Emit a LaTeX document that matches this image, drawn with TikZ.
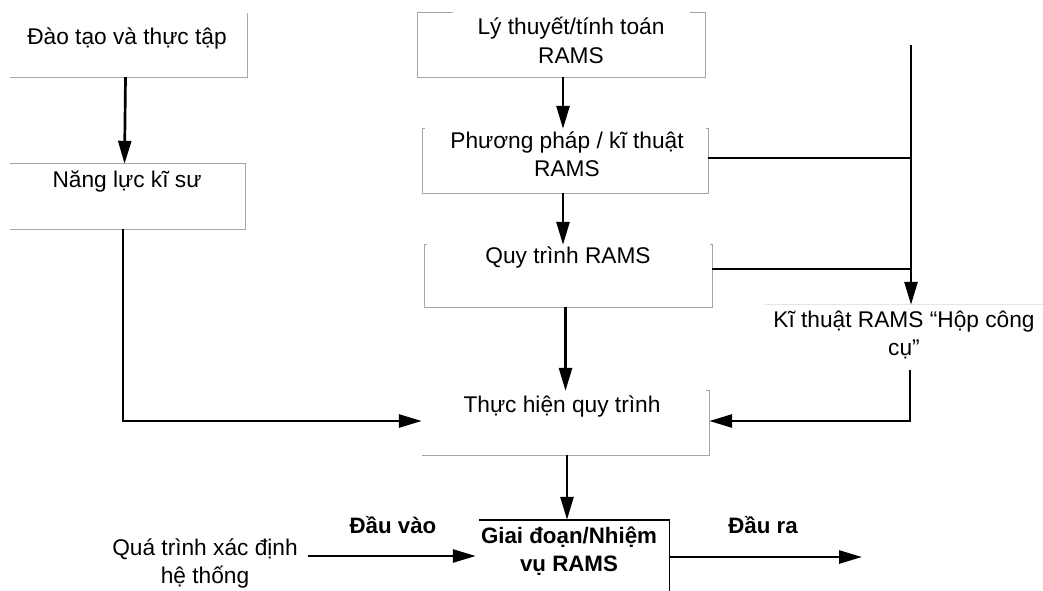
\documentclass[tikz,border=0pt]{standalone}
\usepackage{fontspec}
\setmainfont{Liberation Sans}
\usetikzlibrary{arrows.meta}
\newcommand\twolines[2]{\begin{tabular}[t]{@{}c@{}}#1\\#2\end{tabular}}

\begin{document}
\begin{tikzpicture}[x=1pt,y=-1pt,
  txt/.style={font=\fontsize{22.7}{28.5}\selectfont, inner sep=0pt, anchor=base},
  btxt/.style={txt, font=\fontsize{22.3}{28.5}\selectfont\bfseries},
  box/.style={draw=none, inner sep=0pt},
  edge/.style={draw=black!35, line width=1pt},
  faint/.style={draw=black!10, line width=1pt},
  frame/.style={draw=black, line width=1.4pt},
  plain/.style={line width=2.7pt},
  link/.style={plain, -{Triangle[length=23pt,width=13pt]}},
]
\useasboundingbox (0,0) rectangle (1043,591);

% frames of the steps
\node[box, minimum width=237pt, minimum height=64pt] (train)  at (128.5,45)  {};
\node[box, minimum width=235pt, minimum height=65pt] (comp)   at (127.5,196.5) {};
\node[box, minimum width=287pt, minimum height=64pt] (theory) at (561.5,45)  {};
\node[box, minimum width=285pt, minimum height=64pt] (method) at (565.5,161) {};
\node[box, minimum width=287pt, minimum height=62pt] (proc)   at (568.5,276) {};
\node[box, minimum width=287pt, minimum height=64pt] (exec)   at (565.5,423) {};
\node[box, minimum width=278pt, minimum height=65pt] (tool)   at (904,337.5) {};
\node[box, minimum width=190pt, minimum height=72pt] (task)   at (574,556)   {};

% texts
\node[txt] (trainT)  at (127,45)  {Đào tạo và thực tập};
\node[txt] (compT)   at (127,187) {Năng lực kĩ sư};
\node[txt] (theoryT) at (571,35)  {\twolines{Lý thuyết/tính toán}{RAMS}};
\node[txt] (methodT) at (567,148) {\twolines{Phương pháp / kĩ thuật}{RAMS}};
\node[txt] (procT)   at (568,263) {Quy trình RAMS};
\node[txt] (execT)   at (562,412) {Thực hiện quy trình};
\node[txt] (toolT)   at (904,327) {\twolines{Kĩ thuật RAMS “Hộp công}{cụ”}};
\node[txt] (sys)     at (205,555) {\twolines{Quá trình xác định}{hệ thống}};
\node[btxt] (taskT)  at (569,543) {\twolines{Giai đoạn/Nhiệm}{vụ RAMS}};
\node[btxt] (inLbl)  at (393,533) {Đầu vào};
\node[btxt] (outLbl) at (763,533) {Đầu ra};

% partial borders
\draw[edge] (train.north east) -- (train.south east) -- (train.south west);
\draw[edge] (comp.north west) -- (comp.north east) -- (comp.south east) -- (comp.south west);
\draw[edge] ([xshift=35pt]theory.north west) -- (theory.north west) -- (theory.south west)
  -- (theory.south east) -- (theory.north east) -- ([xshift=-15pt]theory.north east);
\draw[edge] ([xshift=2pt]method.north west) -- (method.north west) -- (method.south west)
  -- (method.south east) -- (method.north east) -- ([xshift=-2pt]method.north east);
\draw[edge] ([xshift=2pt]proc.north west) -- (proc.north west) -- (proc.south west)
  -- (proc.south east) -- (proc.north east) -- ([xshift=-2pt]proc.north east);
\draw[edge] ([xshift=-3pt]exec.north east) -- (exec.north east) -- (exec.south east) -- (exec.south west);
\draw[faint] (tool.north west) -- (tool.north east);
\draw[frame] (task.north west) -- (task.north east) -- (task.south east);

% connectors
\coordinate (busTop) at (911,45);
\coordinate (outEnd) at (862,557);

\draw[link] ([xshift=-3pt]train.south) -- ([xshift=-3pt]comp.north);
\draw[link] ([xshift=-4.5pt]comp.south) |- ([yshift=2pt]exec.west);
\draw[link] ([xshift=1.5pt]theory.south) -- ([xshift=1.5pt]theory.south |- method.north);
\draw[link] ([xshift=-2.5pt]method.south) -- ([xshift=-2.5pt]method.south |- proc.north);
\draw[link] (exec.north |- proc.south) -- (exec.north);
\draw[plain] ([yshift=3pt]method.east) -- ([yshift=3pt]method.east -| busTop);
\draw[plain] ([yshift=7pt]proc.east) -- ([yshift=7pt]proc.east -| busTop);
\draw[link] (busTop) -- (busTop |- tool.north);
\draw[link] ([xshift=6pt]tool.south) |- ([yshift=2pt]exec.east);
\draw[link] ([xshift=1.5pt]exec.south) -- ([xshift=1.5pt]exec.south |- task.north);
\draw[link] ([xshift=10pt]sys.east |- task.west) -- ([xshift=-3pt]task.west);
\draw[link] ([yshift=-1pt]task.east) -- (outEnd);
\end{tikzpicture}
\end{document}
